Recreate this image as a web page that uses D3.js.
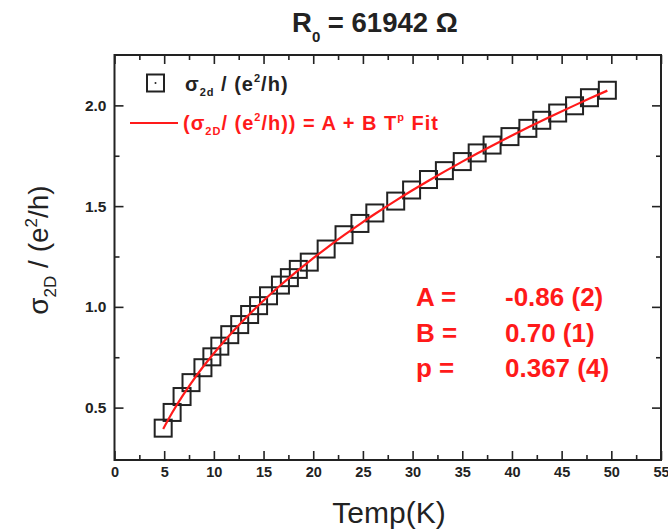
<!DOCTYPE html>
<html><head><meta charset="utf-8">
<script src="https://cdn.jsdelivr.net/npm/d3@7"></script>
<style>
body{margin:0;background:#fff}
svg{display:block;font-family:"Liberation Sans",Arial,sans-serif}
</style>
</head><body>
<svg id="chart" width="668" height="531"></svg>
<script>
// Measured sheet conductance vs temperature
const tempK = [4.9, 5.8, 6.8, 7.7, 8.9, 9.8, 10.6, 11.6, 12.6, 13.6, 14.5, 15.5, 16.7, 17.6, 18.5, 19.6, 21.3, 23.1, 24.7, 26.2, 28.3, 29.9, 31.6, 33.2, 35.0, 36.5, 38.0, 39.8, 41.6, 43.0, 44.6, 46.3, 47.8, 49.6];
const sigma2D = [0.398, 0.476, 0.555, 0.624, 0.698, 0.752, 0.805, 0.862, 0.912, 0.962, 1.006, 1.055, 1.108, 1.145, 1.186, 1.222, 1.287, 1.358, 1.414, 1.466, 1.525, 1.580, 1.632, 1.676, 1.721, 1.764, 1.803, 1.845, 1.886, 1.926, 1.962, 1.998, 2.038, 2.075];

// Power-law fit  sigma = A + B T^p
const fitA = -0.86, fitB = 0.70, fitP = 0.367;
const paramNames = ["A =", "B =", "p ="];
const paramTexts = ["-0.86 (2)", "0.70 (1)", "0.367 (4)"];

// Axis ticks
const xMajor = [0, 5, 10, 15, 20, 25, 30, 35, 40, 45, 50, 55];
const xMinor = [2.5, 7.5, 12.5, 17.5, 22.5, 27.5, 32.5, 37.5, 42.5, 47.5, 52.5];
const yMajor = [0.5, 1.0, 1.5, 2.0];
const yMinor = [0.75, 1.25, 1.75];

const svg = d3.select("#chart");
const L = 114.5, R = 661, T = 55, B = 460;
const x = d3.scaleLinear().domain([0, 55]).range([L, R]);
const y = d3.scaleLinear().domain([0.24, 2.25]).range([B, T]);
const ink = "#222";
const red = "#ff1a1a";

// axes (ticks pointing inward)
function styleAxis(g){
  g.select(".domain").remove();
  g.selectAll(".tick line").attr("stroke", ink).attr("stroke-width", 1.6);
  g.selectAll(".tick text").attr("fill", ink).attr("font-weight", "bold").attr("font-family", "Liberation Sans, Arial, sans-serif");
}
svg.append("g").attr("transform", `translate(0,${B})`)
  .call(d3.axisBottom(x).tickValues(xMajor).tickSize(-9).tickPadding(7).tickFormat(d3.format("d")))
  .call(styleAxis).call(g => g.selectAll(".tick text").attr("font-size", 14.5));
svg.append("g").attr("transform", `translate(0,${B})`)
  .call(d3.axisBottom(x).tickValues(xMinor).tickSize(-5).tickFormat(""))
  .call(styleAxis);
svg.append("g").attr("transform", `translate(0,${T})`)
  .call(d3.axisTop(x).tickValues(xMajor).tickSize(-9).tickFormat(""))
  .call(styleAxis);
svg.append("g").attr("transform", `translate(0,${T})`)
  .call(d3.axisTop(x).tickValues(xMinor).tickSize(-5).tickFormat(""))
  .call(styleAxis);
svg.append("g").attr("transform", `translate(${L},0)`)
  .call(d3.axisLeft(y).tickValues(yMajor).tickSize(-9).tickPadding(8).tickFormat(d3.format(".1f")))
  .call(styleAxis).call(g => g.selectAll(".tick text").attr("font-size", 15.5));
svg.append("g").attr("transform", `translate(${L},0)`)
  .call(d3.axisLeft(y).tickValues(yMinor).tickSize(-5).tickFormat(""))
  .call(styleAxis);
svg.append("g").attr("transform", `translate(${R},0)`)
  .call(d3.axisRight(y).tickValues(yMajor).tickSize(-9).tickFormat(""))
  .call(styleAxis);
svg.append("g").attr("transform", `translate(${R},0)`)
  .call(d3.axisRight(y).tickValues(yMinor).tickSize(-5).tickFormat(""))
  .call(styleAxis);

// frame
svg.append("rect").attr("x", L).attr("y", T).attr("width", R - L).attr("height", B - T)
  .attr("fill", "none").attr("stroke", ink).attr("stroke-width", 2);

// data squares
const data = tempK.map((t, i) => ({t, s: sigma2D[i]}));
const sq = 17;
svg.append("g").selectAll("rect").data(data).join("rect")
  .attr("x", d => x(d.t) - sq / 2).attr("y", d => y(d.s) - sq / 2)
  .attr("width", sq).attr("height", sq)
  .attr("fill", "none").attr("stroke", ink).attr("stroke-width", 2);

// fit curve evaluated at the measured temperatures
const fitLine = d3.line().x(d => x(d.t)).y(d => y(fitA + fitB * Math.pow(d.t, fitP))).curve(d3.curveMonotoneX);
svg.append("path").datum(data).attr("d", fitLine)
  .attr("fill", "none").attr("stroke", red).attr("stroke-width", 2.2);

// title
const title = svg.append("text").attr("x", 292).attr("y", 32)
  .attr("font-size", 27.5).attr("font-weight", "bold").attr("fill", ink);
title.append("tspan").text("R");
title.append("tspan").attr("font-size", 15).attr("dy", 10).text("0");
title.append("tspan").attr("dy", -10).text(" = 61942 Ω");

// axis titles
svg.append("text").attr("x", 389).attr("y", 523).attr("text-anchor", "middle")
  .attr("font-size", 30).attr("fill", ink).text("Temp(K)");
const yl = svg.append("text").attr("transform", "translate(48,250) rotate(-90)")
  .attr("text-anchor", "middle").attr("font-size", 28).attr("fill", ink);
yl.append("tspan").text("σ");
yl.append("tspan").attr("font-size", 17).attr("dy", 8).text("2D");
yl.append("tspan").attr("dy", -8).text(" / (e");
yl.append("tspan").attr("font-size", 17).attr("dy", -11).text("2");
yl.append("tspan").attr("dy", 11).text("/h)");

// legend
const lg = svg.append("g");
lg.append("rect").attr("x", 155.5 - 8.5).attr("y", 83 - 8.5).attr("width", 17).attr("height", 17)
  .attr("fill", "none").attr("stroke", ink).attr("stroke-width", 2);
lg.append("circle").attr("cx", 155.5).attr("cy", 83).attr("r", 1).attr("fill", ink);
const l1 = lg.append("text").attr("x", 185).attr("y", 91).attr("font-size", 20).attr("letter-spacing", 1)
  .attr("font-weight", "bold").attr("fill", ink);
l1.append("tspan").text("σ");
l1.append("tspan").attr("font-size", 11).attr("dy", 5).text("2d");
l1.append("tspan").attr("dy", -5).text(" / (e");
l1.append("tspan").attr("font-size", 11).attr("dy", -9).text("2");
l1.append("tspan").attr("dy", 9).text("/h)");
lg.append("line").attr("x1", 130).attr("x2", 178).attr("y1", 123).attr("y2", 123)
  .attr("stroke", red).attr("stroke-width", 2);
const l2 = lg.append("text").attr("x", 183).attr("y", 130).attr("font-size", 20).attr("letter-spacing", 1)
  .attr("font-weight", "bold").attr("fill", red);
l2.append("tspan").text("(σ");
l2.append("tspan").attr("font-size", 11).attr("dy", 5).text("2D");
l2.append("tspan").attr("dy", -5).text("/ (e");
l2.append("tspan").attr("font-size", 11).attr("dy", -9).text("2");
l2.append("tspan").attr("dy", 9).text("/h)) = A + B T");
l2.append("tspan").attr("font-size", 11).attr("dy", -9).text("p");
l2.append("tspan").attr("dy", 9).text(" Fit");

// fit parameters
const pg = svg.append("g").attr("font-size", 26).attr("font-weight", "bold").attr("fill", red);
paramNames.forEach((n, i) => {
  pg.append("text").attr("x", 416).attr("y", 306 + i * 35.5).text(n);
  pg.append("text").attr("x", 505).attr("y", 306 + i * 35.5).text(paramTexts[i]);
});
</script>
</body></html>
